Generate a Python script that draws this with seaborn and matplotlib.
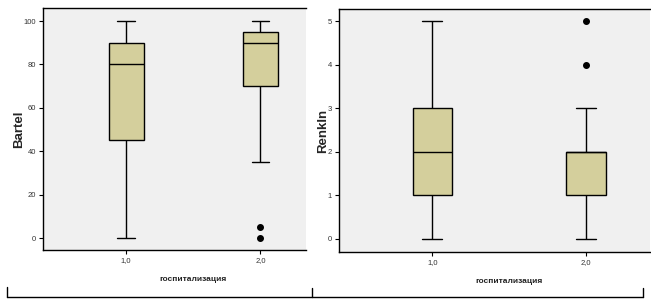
import matplotlib
matplotlib.use("Agg")
import matplotlib.pyplot as plt
import seaborn as sns
import pandas as pd
from matplotlib.lines import Line2D

# ---- data (values consistent with the box statistics)
groups = ["1,0", "2,0"]
bartel_g1 = [0, 20, 45, 60, 80, 85, 90, 95, 100]
bartel_g2 = [0, 5, 35, 70, 80, 85, 90, 90, 95, 95, 100, 100, 100]
renkin_g1 = [0, 1, 1, 2, 2, 3, 3, 4, 5]
renkin_g2 = [0, 1, 1, 1, 2, 2, 2, 2, 2, 2, 3, 4, 5]
bartel_ticks = [0, 20, 40, 60, 80, 100]
renkin_ticks = [0, 1, 2, 3, 4, 5]
xlabel = "госпитализация"

df_b = pd.DataFrame({"g": [groups[0]] * len(bartel_g1) + [groups[1]] * len(bartel_g2),
                     "v": bartel_g1 + bartel_g2})
df_r = pd.DataFrame({"g": [groups[0]] * len(renkin_g1) + [groups[1]] * len(renkin_g2),
                     "v": renkin_g1 + renkin_g2})

sns.set_style("white")
plt.rcParams["font.family"] = ["Liberation Sans", "DejaVu Sans"]

fig = plt.figure(figsize=(6.51, 3.07), dpi=100)
ax1 = fig.add_axes([43 / 651, 57 / 307, 263 / 651, 242 / 307])
ax2 = fig.add_axes([339 / 651, 55 / 307, 311 / 651, 243 / 307])

box_col = "#D4CF9C"
bg = "#F0F0F0"
flier = dict(marker="o", markerfacecolor="black", markeredgecolor="black", markersize=4)

for ax, df, ticks, ylab, ylim, xlim, lp in [
    (ax1, df_b, bartel_ticks, "Bartel", (-5.5, 106), (-0.62, 1.34), -1),
    (ax2, df_r, renkin_ticks, "RenkIn", (-0.3, 5.28), (-0.61, 1.42), -1),
]:
    sns.boxplot(data=df, x="g", y="v", order=groups, ax=ax, color=box_col,
                saturation=1, width=0.26, linecolor="black", linewidth=1,
                whis=1.5, flierprops=flier)
    ax.set_facecolor(bg)
    ax.set_xlim(*xlim)
    ax.set_ylim(*ylim)
    ax.set_yticks(ticks)
    ax.set_yticklabels([str(t) for t in ticks])
    ax.set_xlabel(xlabel, fontsize=6, fontweight="bold", color="#222222", labelpad=9)
    # label centred between the two categories, as in the reference
    ax.xaxis.label.set_x((0.5 - xlim[0]) / (xlim[1] - xlim[0]))
    ax.set_ylabel(ylab, fontsize=9.5, fontweight="bold", labelpad=lp)
    ax.tick_params(axis="both", which="both", direction="out", length=3, width=0.8,
                   labelsize=5.5, colors="black", labelcolor="#333333", pad=2,
                   left=True, bottom=True)
    for s in ["left", "bottom", "top"]:
        ax.spines[s].set_visible(True)
        ax.spines[s].set_color("black")
        ax.spines[s].set_linewidth(1)
    ax.spines["right"].set_visible(False)

# bottom bracket lines (figure coordinates)
def fl(x0, y0, x1, y1):
    fig.add_artist(Line2D([x0 / 651, x1 / 651], [1 - y0 / 307, 1 - y1 / 307],
                          color="black", linewidth=1))

fl(7, 297, 643, 297)
fl(7, 287, 7, 297)
fl(312, 288, 312, 297)
fl(643, 288, 643, 297)

fig.savefig("out.png", dpi=100)
